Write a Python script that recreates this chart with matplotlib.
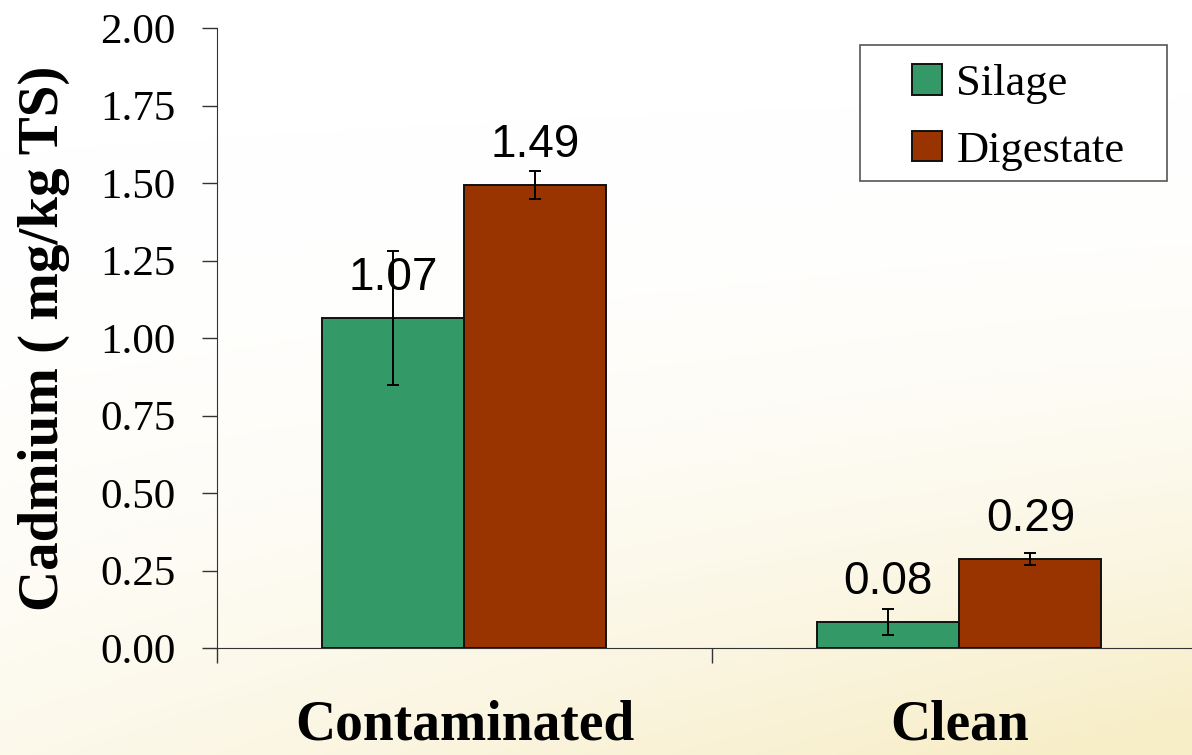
import numpy as np
import matplotlib
matplotlib.use("Agg")
import matplotlib.pyplot as plt
from matplotlib.patches import Rectangle

# data
groups = ["Contaminated", "Clean"]
silage = [1.065, 0.085]
silage_err = [0.215, 0.042]
digestate = [1.494, 0.287]
digestate_err = [0.045, 0.018]
silage_labels = ["1.07", "0.08"]
digestate_labels = ["1.49", "0.29"]

green = "#339966"
brown = "#993300"

fig = plt.figure(figsize=(11.92, 7.55), dpi=100)

# soft yellowish background like the slide
bg = fig.add_axes([0, 0, 1, 1], zorder=-10)
gx, gy = np.meshgrid(np.linspace(0, 1, 300), np.linspace(0, 1, 200))
t = np.clip(0.75 * gy + 0.45 * gx * gy - 0.15, 0, 1) ** 2
col0 = np.array([1.0, 1.0, 1.0])
col1 = np.array([0.97, 0.93, 0.78])
img = col0 + (col1 - col0) * t[..., None]
bg.imshow(img, extent=[0, 1, 0, 1], aspect="auto", origin="upper")
bg.axis("off")

ax = fig.add_axes([0.182, 0.1417, 0.8305, 0.8212])
ax.patch.set_alpha(0)

x = np.arange(len(groups)) + 0.5
w = 0.287
ekw = dict(ecolor="black", elinewidth=1.4, capsize=4.5, capthick=1.4)
b1 = ax.bar(x - w / 2, silage, w, yerr=silage_err, color=green, edgecolor="#111111",
            linewidth=1.4, label="Silage", error_kw=ekw)
b2 = ax.bar(x + w / 2, digestate, w, yerr=digestate_err, color=brown, edgecolor="#111111",
            linewidth=1.4, label="Digestate", error_kw=ekw)

for bars, labs in ((b1, silage_labels), (b2, digestate_labels)):
    for b, lab in zip(bars, labs):
        ax.annotate(lab, (b.get_x() + b.get_width() / 2, b.get_height()),
                    xytext=(0, 13), textcoords="offset points", ha="center", va="bottom",
                    fontsize=33, family="Liberation Sans")

ax.set_xlim(0, 2)
ax.set_ylim(0, 2.0)
ax.set_yticks(np.arange(0, 2.01, 0.25))
ax.set_yticklabels([f"{v:.2f}" for v in np.arange(0, 2.01, 0.25)])
ax.set_xticks([0, 1, 2])
ax.set_xticklabels(["", "", ""])
ax.set_xticks(x, minor=True)
ax.set_xticklabels(groups, minor=True)
ax.tick_params(axis="x", which="major", length=11, width=1, direction="out", color="#333333")
ax.tick_params(axis="x", which="minor", length=0, pad=37, labelsize=40)
ax.tick_params(axis="y", length=11, width=1, direction="out", pad=19, labelsize=31, color="#333333")
for lab in ax.get_xticklabels(minor=True):
    lab.set_family("Liberation Serif")
    lab.set_fontweight("bold")
for lab in ax.get_yticklabels():
    lab.set_family("Liberation Serif")

ax.set_ylabel("Cadmium ( mg/kg TS)", family="Liberation Serif", fontweight="bold",
              fontsize=41)
ax.yaxis.set_label_coords(-0.148, 0.5)

for s in ("top", "right"):
    ax.spines[s].set_visible(False)
ax.spines["left"].set_color("#333333")
ax.spines["bottom"].set_color("#333333")

# legend: frame drawn separately so padding can differ across / down
frame = Rectangle((860 / 1192, 1 - 181 / 755), 307 / 1192, 136 / 755,
                  transform=fig.transFigure, facecolor="white",
                  edgecolor="#555555", linewidth=1.2, zorder=4, clip_on=False)
ax.add_patch(frame)
leg = ax.legend(loc="upper left", bbox_to_anchor=(912 / 1192, 1 - 64 / 755),
                bbox_transform=fig.transFigure, frameon=False,
                prop={"family": "Liberation Serif", "size": 32},
                handlelength=0.68, handleheight=0.68, borderpad=0, labelspacing=0.6,
                handletextpad=0.32, borderaxespad=0)
leg.set_zorder(6)

fig.savefig("out.png", dpi=100)
